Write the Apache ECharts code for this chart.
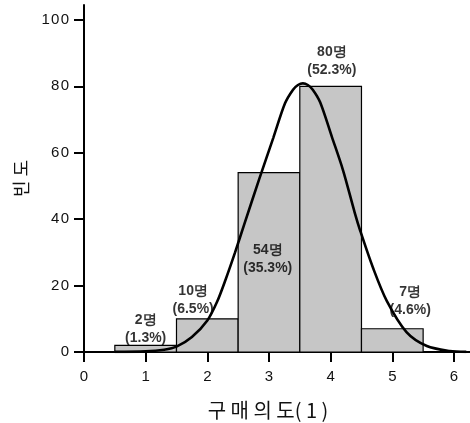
<!DOCTYPE html>
<html>
<head>
<meta charset="utf-8">
<script src="https://cdn.jsdelivr.net/npm/echarts@6/dist/echarts.min.js"></script>
<style>
html,body{margin:0;padding:0;background:#fff;}
#c{width:470px;height:423px;}
</style>
</head>
<body>
<div id="c"></div>
<script>
// Data
const categories = [1, 2, 3, 4, 5];
const counts = [2, 10, 54, 80, 7];
const labelTexts = ['2명\n(1.3%)', '10명\n(6.5%)', '54명\n(35.3%)', '80명\n(52.3%)', '7명\n(4.6%)'];
const labelAnchors = [[1.0, 7], [1.77, 15.7], [2.98, 28], [4.02, 87.6], [5.29, 15.4]];
const curveX = [0.5, 1.0, 1.3, 1.5, 1.75, 2.0, 2.16, 2.3, 2.45, 2.6, 2.84, 3.07, 3.26, 3.39, 3.47, 3.55, 3.63, 3.71, 3.83, 4.02, 4.2, 4.39, 4.48, 4.69, 4.91, 5.23, 5.56, 5.93, 6.2];
const curveY = [0.05, 0.2, 0.7, 1.6, 4.5, 9.5, 15.2, 22, 30, 38.5, 52, 64.5, 74.9, 79.0, 80.4, 80.9, 80.4, 79.0, 75.2, 64.8, 54.8, 42, 36.5, 25.2, 15.4, 6.0, 1.8, 0.3, 0.05];
const xTicks = [0, 1, 2, 3, 4, 5, 6];
const yTicks = [0, 20, 40, 60, 80, 100];

const chart = echarts.init(document.getElementById('c'), null, {renderer: 'canvas'});
const font = '"Liberation Sans", Arial, sans-serif';
const kfont = '"Noto Sans CJK KR", sans-serif';

const option = {
  animation: false,
  backgroundColor: '#fff',
  grid: {left: 84, top: 5, right: 0, bottom: 71, containLabel: false, outerBoundsMode: 'none'},
  xAxis: [{
    type: 'value', min: 0, max: 6.26,
    axisLine: {show: true, onZero: false, lineStyle: {color: '#000', width: 2}},
    axisTick: {show: true, inside: false, length: 10, customValues: xTicks, lineStyle: {color: '#000', width: 2}},
    axisLabel: {customValues: xTicks, color: '#111', fontFamily: font, fontSize: 15, margin: 17},
    splitLine: {show: false},
    name: '구 매 의 도( 1 )', nameLocation: 'middle', nameGap: 48,
    nameTextStyle: {fontFamily: kfont, fontSize: 20, color: '#111', padding: [0, 18, 0, 0]}
  }, {
    type: 'value', min: 0, max: 6.26, position: 'top',
    axisLine: {show: true, lineStyle: {color: '#000', width: 2}},
    axisTick: {show: false}, axisLabel: {show: false}, splitLine: {show: false}
  }],
  yAxis: {
    type: 'value', min: 0, max: 104.5,
    axisLine: {show: true, lineStyle: {color: '#000', width: 2}},
    axisTick: {show: true, length: 10, customValues: yTicks, lineStyle: {color: '#000', width: 2}},
    axisLabel: {customValues: yTicks, color: '#111', fontFamily: font, fontSize: 15, margin: 15,
      formatter: v => String(v).split('').join('\u200A')},
    splitLine: {show: false},
    name: '빈 도', nameLocation: 'middle', nameGap: 54, nameRotate: 90,
    nameTextStyle: {fontFamily: kfont, fontSize: 18, color: '#111'}
  },
  series: [{
    type: 'custom',
    data: categories.map((c, i) => [c, counts[i]]),
    renderItem: function (params, api) {
      const x = api.value(0), y = api.value(1);
      const p1 = api.coord([x - 0.5, y]);
      const p2 = api.coord([x + 0.5, 0]);
      return {
        type: 'rect',
        shape: {x: p1[0], y: p1[1], width: p2[0] - p1[0], height: p2[1] - p1[1]},
        style: {fill: '#c6c6c6', stroke: '#000', lineWidth: 1.2}
      };
    },
    z: 2
  }, {
    type: 'line',
    data: curveX.map((x, i) => [x, curveY[i]]),
    smooth: 0.3,
    showSymbol: false,
    lineStyle: {color: '#000', width: 2.6},
    z: 3
  }, {
    type: 'scatter',
    data: labelAnchors.map((p, i) => ({value: p, name: labelTexts[i]})),
    symbolSize: 0,
    label: {
      show: true, position: 'inside', formatter: p => p.name,
      fontFamily: font, fontWeight: 'bold', fontSize: 14, color: '#000', lineHeight: 18
    },
    z: 4
  }]
};
chart.setOption(option);
</script>
</body>
</html>
